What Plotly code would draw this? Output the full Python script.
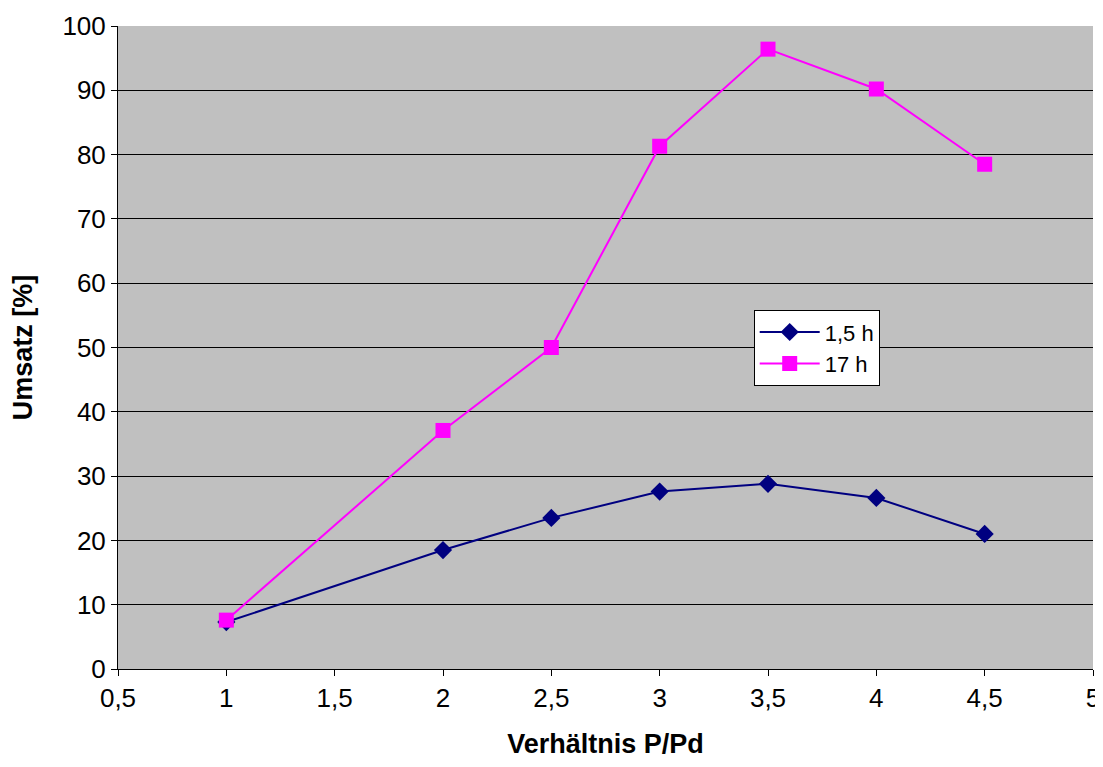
import plotly.graph_objects as go

x_vals = [1, 2, 2.5, 3, 3.5, 4, 4.5]
umsatz_1_5h = [7.3, 18.5, 23.5, 27.6, 28.8, 26.6, 21.0]
umsatz_17h = [7.6, 37.1, 50.0, 81.3, 96.4, 90.2, 78.5]
x_ticks = [0.5, 1, 1.5, 2, 2.5, 3, 3.5, 4, 4.5, 5]
x_ticklabels = ["0,5", "1", "1,5", "2", "2,5", "3", "3,5", "4", "4,5", "5"]

fig = go.Figure()
fig.add_trace(go.Scatter(
    x=x_vals, y=umsatz_1_5h, name="1,5 h", mode="lines+markers",
    line=dict(color="#000080", width=2),
    marker=dict(symbol="diamond", size=14, color="#000080"),
))
fig.add_trace(go.Scatter(
    x=x_vals, y=umsatz_17h, name="17 h", mode="lines+markers",
    line=dict(color="#FF00FF", width=2),
    marker=dict(symbol="square", size=15, color="#FF00FF"),
))

font = "Liberation Sans, Arial, sans-serif"
fig.update_layout(
    width=1095, height=751,
    margin=dict(l=110, r=10, t=18, b=90, autoexpand=False),
    paper_bgcolor="white",
    plot_bgcolor="#C0C0C0",
    font=dict(family=font, size=26, color="black"),
    showlegend=True,
    legend=dict(
        x=0.652, y=0.558, xanchor="left", yanchor="top",
        bgcolor="white", bordercolor="black", borderwidth=1,
        font=dict(size=22), tracegroupgap=0, itemwidth=60,
    ),
    xaxis=dict(
        range=[0.5, 5], tickvals=x_ticks, ticktext=x_ticklabels,
        showgrid=False, zeroline=False,
        showline=True, linecolor="black", linewidth=1, mirror=False,
        ticks="outside", ticklen=6, tickcolor="black",
        tickfont=dict(size=26), ticklabeloverflow="allow",
        title=dict(text="<b>Verhältnis P/Pd</b>", font=dict(size=27), standoff=38),
    ),
    yaxis=dict(
        range=[0, 100], tickvals=list(range(0, 101, 10)),
        showgrid=True, gridcolor="black", gridwidth=1, zeroline=False,
        showline=True, linecolor="black", linewidth=1,
        ticks="outside", ticklen=6, tickcolor="black",
        tickfont=dict(size=26), ticklabeloverflow="allow",
        title=dict(text="<b>Umsatz [%]</b>", font=dict(size=27), standoff=22),
    ),
)

fig.write_html("out.html")
